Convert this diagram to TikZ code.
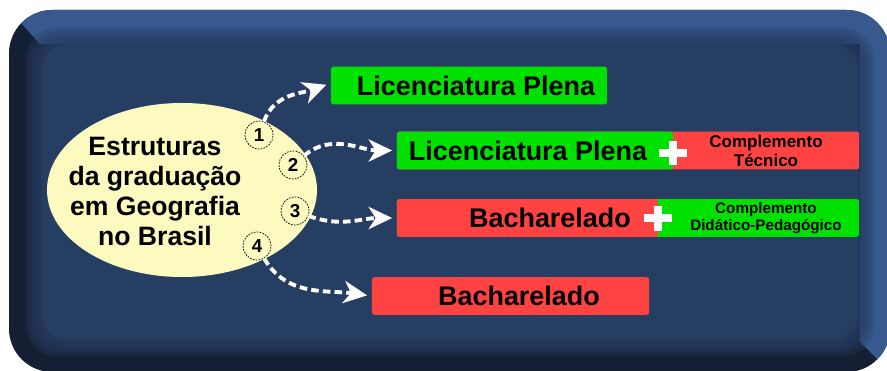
\documentclass[tikz,border=0pt]{standalone}
\usepackage{fontspec}
\setmainfont{Liberation Sans}
\usepackage{tikz}
\usetikzlibrary{shapes.geometric,arrows.meta}

\definecolor{bgdark}{HTML}{151F33}
\definecolor{bglight}{HTML}{37598D}
\definecolor{bgface}{HTML}{273E63}
\definecolor{ovalfill}{HTML}{FDFAC0}
\definecolor{boxgreen}{HTML}{00E100}
\definecolor{boxred}{HTML}{FF4343}

\begin{document}
\begin{tikzpicture}[x=0.03cm,y=-0.03cm,
    box/.style={rectangle, rounded corners=2pt, minimum height=1.13cm, inner sep=0pt},
    bigtext/.style={font=\fontsize{23}{26}\selectfont\bfseries},
    smalltext/.style={font=\fontsize{14.5}{16.2}\selectfont\bfseries, align=center},
    tinytext/.style={font=\fontsize{13}{14.5}\selectfont\bfseries, align=center},
    numcircle/.style={circle, draw=black, dash pattern=on 1.5pt off 1pt, line width=0.6pt,
        minimum size=0.84cm, inner sep=0pt, font=\fontsize{16}{16}\selectfont\bfseries},
    plusbar/.style={white, line width=7pt},
    flow/.style={white, line width=3.3pt, dash pattern=on 6.5pt off 3.5pt, shorten >=4pt,
        -{Stealth[length=20pt,width=19pt,inset=6pt]}}
]
    \useasboundingbox (0,0) rectangle (887,371);

    % Background panel
    \fill[bgdark, rounded corners=1.3cm] (9,10) rectangle (890,372);
    \begin{scope}
        \clip[rounded corners=1.3cm] (9,10) rectangle (890,372);
        \fill[bglight] (9,10) -- (890,10) -- (890,372) -- (860,342) -- (860,44) -- (40,44) -- cycle;
    \end{scope}
    \foreach \d in {0,3,...,15}
        \fill[bgface, opacity=0.3, rounded corners=0.9cm] (26+\d,28+\d) rectangle (874-\d,356-\d);
    \fill[bgface, rounded corners=0.8cm] (42,44) rectangle (858,340);

    % Define nodes
    \node[ellipse, fill=ovalfill, minimum width=8.1cm, minimum height=5.22cm] (E) at (182,190) {};
    \node[font=\fontsize{22.7}{25.6}\selectfont\bfseries, align=center] (T) at (155,191)
        {Estruturas\\da graduação\\em Geografia\\no Brasil};

    \node[numcircle] (N1) at (259,135) {1};
    \node[numcircle] (N2) at (293,165) {2};
    \node[numcircle] (N3) at (295,211) {3};
    \node[numcircle] (N4) at (257,246) {4};

    \node[box, fill=boxgreen, minimum width=8.28cm] (S1) at (469,85.5) {};
    \node[box, fill=boxred, minimum width=13.86cm,
        path picture={\fill[boxgreen] (path picture bounding box.north west)
            rectangle ([xshift=8.28cm]path picture bounding box.south west);}] (S2) at (628,150.5) {};
    \node[box, fill=boxgreen, minimum width=13.86cm,
        path picture={\fill[boxred] (path picture bounding box.north west)
            rectangle ([xshift=7.83cm]path picture bounding box.south west);}] (S3) at (628,218) {};
    \node[box, fill=boxred, minimum width=8.31cm] (S4) at (510.5,296) {};

    \node[bigtext] (T1) at (476,85.5) {Licenciatura Plena};
    \node[bigtext] (T2) at (528,151) {Licenciatura Plena};
    \node[smalltext] (C2) at (766,151) {Complemento\\Técnico};
    \node[bigtext] (T3) at (550,218) {Bacharelado};
    \node[tinytext] (C3) at (766,218.5) {Complemento\\Didático-Pedagógico};
    \node[bigtext] (T4) at (519,296) {Bacharelado};

    % Plus signs
    \draw[plusbar] (659,153) -- (687,153) (673,141) -- (673,165);
    \draw[plusbar] (644,218) -- (672,218) (658,206) -- (658,231);

    % Draw arrows
    \draw[flow] (N1) to[out=70,in=200] ([yshift=2pt]S1.west);
    \draw[flow] (N2) to[out=40,in=180] (S2.west);
    \draw[flow] (N3) to[out=-20,in=180] (S3.west);
    \draw[flow] (N4) to[out=-60,in=172] (S4.west);
\end{tikzpicture}
\end{document}
